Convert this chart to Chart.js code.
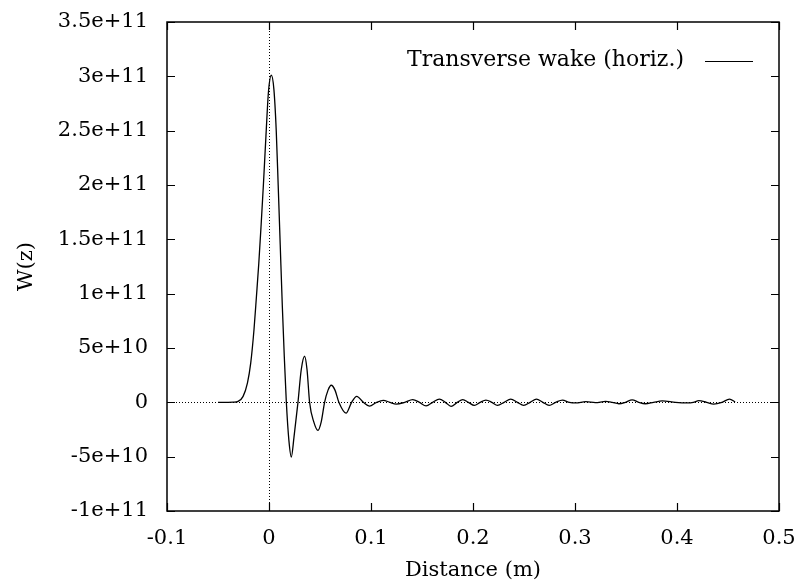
<!DOCTYPE html>
<html lang="en">
<head>
  <meta charset="UTF-8">
  <title>Transverse wake</title>
  <script src="https://cdn.jsdelivr.net/npm/chart.js"></script>
  <style>
    body {
      margin: 0;
      background: #fff;
    }
    #box {
      width: 801px;
      height: 588px;
    }
  </style>
</head>
<body>
  <div id="box"><canvas id="wakeChart" width="801" height="588"></canvas></div>

  <script>
    // distance (m) and wake W(z)
    const distance = [
      -0.050, -0.040, -0.035, -0.0303, -0.0254, -0.0211, -0.0179, -0.0147, -0.0123, -0.0100,
      -0.0078, -0.0055, -0.0030, -0.0005, 0.0023, 0.0048, 0.0071, 0.0090, 0.0110, 0.0130,
      0.0150, 0.0170, 0.0195, 0.0219, 0.0245, 0.0284, 0.0316, 0.0349, 0.0373, 0.0398,
      0.0439, 0.0480, 0.0512, 0.0545, 0.0578, 0.0610, 0.0648, 0.0685, 0.0755, 0.0810,
      0.0860, 0.0925, 0.0985, 0.1055, 0.1120, 0.1185, 0.1247, 0.1330, 0.1409, 0.1475,
      0.1540, 0.1605, 0.1670, 0.1730, 0.1785, 0.1845, 0.1900, 0.1955, 0.2013, 0.2070,
      0.2127, 0.2185, 0.2240, 0.2305, 0.2370, 0.2435, 0.2497, 0.2560, 0.2622, 0.2685,
      0.2747, 0.2810, 0.2877, 0.2945, 0.3008, 0.3106, 0.3200, 0.3300, 0.3365, 0.3430,
      0.3495, 0.3560, 0.3625, 0.3690, 0.3770, 0.3855, 0.3985, 0.4100, 0.4160, 0.4214,
      0.4290, 0.4360, 0.4440, 0.4515, 0.4570
    ];
    const wake = [
      0, 0, 1e8, 9e8, 5.5e9, 1.79e10, 3.63e10, 6.7e10, 9.76e10, 1.28e11,
      1.62e11, 2.0e11, 2.45e11, 2.86e11, 3.01e11, 2.88e11, 2.5e11, 2.0e11, 1.45e11, 9.0e10,
      4.2e10, 0, -3.5e10, -5.03e10, -3.2e10, 0, 3.0e10, 4.24e10, 3.0e10, 0,
      -1.8e10, -2.58e10, -1.8e10, 0, 1.1e10, 1.57e10, 1.1e10, 0, -1.0e10, 0,
      5.5e9, 0, -3.5e9, 0, 1.8e9, 0, -1.6e9, 0, 2.5e9, 0,
      -3.3e9, 0, 3.0e9, 0, -3.8e9, 0, 2.5e9, 0, -2.8e9, 0,
      2.0e9, 0, -2.8e9, 0, 3.0e9, 0, -2.8e9, 0, 3.0e9, 0,
      -2.8e9, 0, 2.0e9, 0, -5e8, 6e8, -3e8, 8e8, 0, -1.3e9,
      0, 2.3e9, 0, -1.3e9, 0, 1.3e9, 0, -5e8, 0, 1.5e9,
      0, -1.6e9, 0, 3.0e9, 3e8
    ];

    const xTickValues = [-0.1, 0, 0.1, 0.2, 0.3, 0.4, 0.5];
    const xTickLabels = ['-0.1', '0', '0.1', '0.2', '0.3', '0.4', '0.5'];
    const yTickValues = [-1e11, -5e10, 0, 5e10, 1e11, 1.5e11, 2e11, 2.5e11, 3e11, 3.5e11];
    const yTickLabels = ['-1e+11', '-5e+10', '0', '5e+10', '1e+11', '1.5e+11', '2e+11', '2.5e+11', '3e+11', '3.5e+11'];
    const seriesName = 'Transverse wake (horiz.)';

    const serif = "'DejaVu Serif', 'Liberation Serif', serif";
    const fontSize = 21;

    // frame, inward ticks on all sides, dotted zero axes and the key
    const gnuplotLook = {
      id: 'gnuplotLook',
      beforeDatasetsDraw(chart) {
        const c = chart.ctx;
        const a = chart.chartArea;
        const x0 = chart.scales.x.getPixelForValue(0);
        const y0 = chart.scales.y.getPixelForValue(0);
        c.save();
        c.strokeStyle = '#000';
        c.lineWidth = 1;
        c.setLineDash([1, 2]);
        c.beginPath();
        c.moveTo(a.left, Math.round(y0) + 0.5);
        c.lineTo(a.right, Math.round(y0) + 0.5);
        c.moveTo(Math.round(x0) + 0.5, a.top);
        c.lineTo(Math.round(x0) + 0.5, a.bottom);
        c.stroke();
        c.restore();
      },
      afterDraw(chart) {
        const c = chart.ctx;
        const a = chart.chartArea;
        const tl = 8;
        c.save();
        c.strokeStyle = '#000';
        c.lineWidth = 1.2;
        c.beginPath();
        xTickValues.forEach(v => {
          const px = Math.round(chart.scales.x.getPixelForValue(v)) + 0.5;
          c.moveTo(px, a.bottom); c.lineTo(px, a.bottom - tl);
          c.moveTo(px, a.top); c.lineTo(px, a.top + tl);
        });
        yTickValues.forEach(v => {
          const py = Math.round(chart.scales.y.getPixelForValue(v)) + 0.5;
          c.moveTo(a.left, py); c.lineTo(a.left + tl, py);
          c.moveTo(a.right, py); c.lineTo(a.right - tl, py);
        });
        c.stroke();
        c.lineWidth = 1.5;
        c.strokeRect(a.left, a.top, a.right - a.left, a.bottom - a.top);

        // key
        c.font = '22px ' + serif;
        c.fillStyle = '#000';
        c.textAlign = 'right';
        c.textBaseline = 'middle';
        c.fillText(seriesName, 684, 60);
        c.lineWidth = 1.2;
        c.beginPath();
        c.moveTo(705, 61.5);
        c.lineTo(753, 61.5);
        c.stroke();
        c.restore();
      }
    };

    const ctx = document.getElementById('wakeChart').getContext('2d');
    new Chart(ctx, {
      type: 'line',
      data: {
        datasets: [{
          label: seriesName,
          data: distance.map((d, i) => ({ x: d, y: wake[i] })),
          borderColor: '#000',
          borderWidth: 1.3,
          pointRadius: 0,
          fill: false,
          cubicInterpolationMode: 'monotone'
        }]
      },
      options: {
        responsive: false,
        animation: false,
        layout: { padding: { top: 22, right: 22, left: 0, bottom: 0 } },
        plugins: {
          legend: { display: false },
          tooltip: { enabled: false }
        },
        scales: {
          x: {
            type: 'linear',
            min: -0.1,
            max: 0.5,
            afterFit: s => { s.height = 77; s.paddingLeft = 0; s.paddingRight = 0; },
            afterBuildTicks: s => { s.ticks = xTickValues.map(v => ({ value: v })); },
            grid: { display: false, drawTicks: false },
            border: { display: false },
            ticks: {
              color: '#000',
              font: { family: serif, size: fontSize },
              padding: 15,
              maxRotation: 0,
              callback: (v) => xTickLabels[xTickValues.indexOf(v)]
            },
            title: {
              display: true,
              text: 'Distance (m)',
              color: '#000',
              font: { family: serif, size: fontSize },
              padding: { top: 0, bottom: 5 }
            }
          },
          y: {
            min: -1e11,
            max: 3.5e11,
            afterFit: s => { s.width = 167; s.paddingTop = 0; s.paddingBottom = 0; },
            afterBuildTicks: s => { s.ticks = yTickValues.map(v => ({ value: v })); },
            grid: { display: false, drawTicks: false },
            border: { display: false },
            ticks: {
              color: '#000',
              font: { family: serif, size: fontSize },
              padding: 19,
              callback: (v) => yTickLabels[yTickValues.indexOf(v)]
            },
            title: {
              display: true,
              text: 'W(z)',
              color: '#000',
              font: { family: serif, size: fontSize },
              padding: { top: 14, bottom: 0 }
            }
          }
        }
      },
      plugins: [gnuplotLook]
    });
  </script>
</body>
</html>
